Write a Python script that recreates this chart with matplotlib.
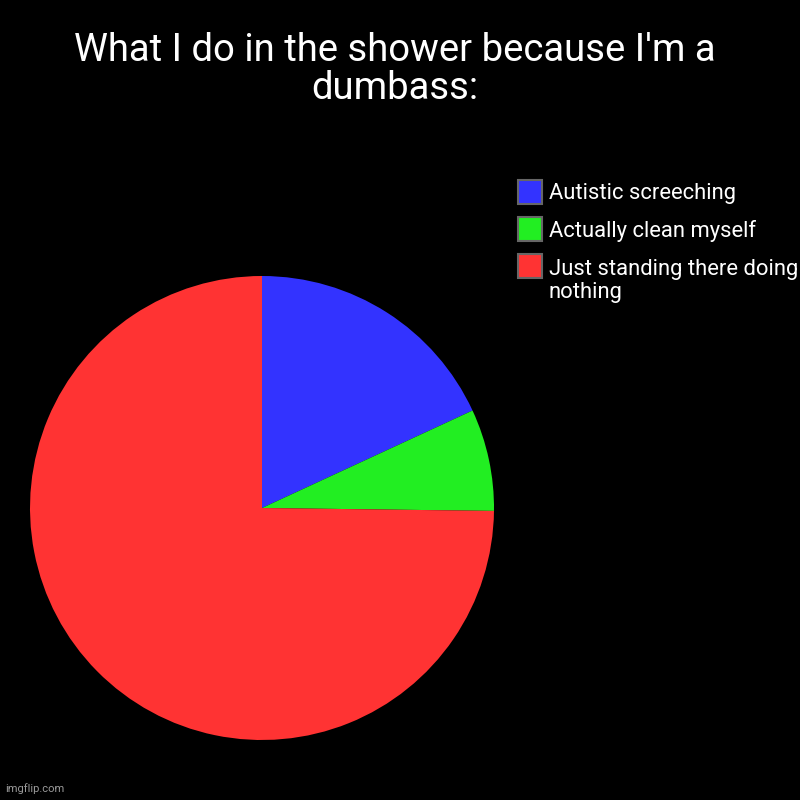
import matplotlib.pyplot as plt
from matplotlib.patches import Rectangle

plt.rcParams['font.family'] = ['Roboto', 'DejaVu Sans']

# --- Data ---
labels = ["Autistic screeching", "Actually clean myself", "Just standing there doing\nnothing"]
values = [18.1, 7.1, 74.8]
colors = ["#3333ff", "#22ee22", "#ff3333"]

W = H = 800
fig = plt.figure(figsize=(8, 8), dpi=100, facecolor="black")

# pie: center ~ (262, 508) px, radius ~ 232 px
ax = fig.add_axes([(262 - 232) / W, 1 - (508 + 232) / H, 464 / W, 464 / H])
ax.set_facecolor("black")
wedges, _ = ax.pie(values, colors=colors, startangle=90, counterclock=False,
                   radius=1.0, wedgeprops=dict(linewidth=0))
ax.set_xlim(-1, 1)
ax.set_ylim(-1, 1)
ax.set_aspect("equal")
ax.axis("off")

fig.text(0.494, 1 - 32 / H, "What I do in the shower because I'm a\ndumbass:", color="white",
         fontsize=27.5, ha="center", va="top", linespacing=1.05)

# legend drawn by hand: box 24px, rows 37px apart
box = 24
row_y = [192, 229, 266]
for lab, c, yc in zip(labels, colors, row_y):
    fig.add_artist(Rectangle((518 / W, 1 - (yc + box / 2) / H), box / W, box / H,
                             facecolor=c, edgecolor="#666666", linewidth=1.5,
                             transform=fig.transFigure))
    n = lab.count("\n")
    fig.text(549 / W, 1 - (yc + 2 + n * 13) / H, lab, color="white", fontsize=15.8,
             ha="left", va="center", linespacing=1.15)

fig.text(0.007, 0.008, "imgflip.com", color="#9a9a9a", fontsize=8, ha="left", va="bottom")

fig.savefig("out.png", dpi=100, facecolor="black")
